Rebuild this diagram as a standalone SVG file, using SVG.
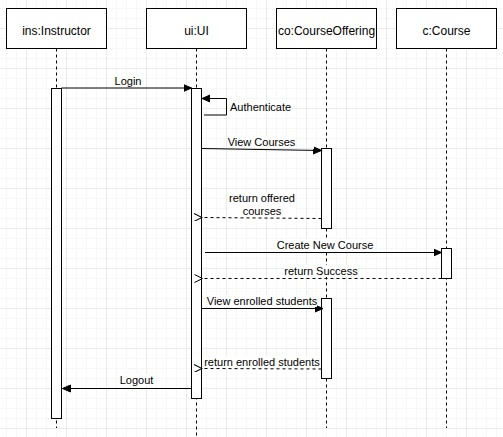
<svg xmlns="http://www.w3.org/2000/svg" width="503" height="437" viewBox="0 0 503 437">
<style>
.box{fill:#fff;stroke:#000;stroke-width:1}
.life{stroke:#000;stroke-width:1;stroke-dasharray:3 3;fill:none}
.act{fill:#fff;stroke:#000;stroke-width:1}
.msg{stroke:#000;stroke-width:1;fill:none}
.ret{stroke:#000;stroke-width:1;fill:none;stroke-dasharray:3 3}
.t{font-family:"Liberation Sans",Arial,sans-serif;font-size:12px;fill:#000;text-anchor:middle}
.l{font-family:"Liberation Sans",Arial,sans-serif;font-size:11px;fill:#000;text-anchor:middle}
.lb{fill:#fff}
</style>
<defs>
<pattern id="minor" x="26" y="28" width="10" height="10" patternUnits="userSpaceOnUse">
<path d="M0.5 0V10M0 0.5H10" stroke="#f7f7f7" stroke-width="1"/>
</pattern>
<pattern id="major" x="26" y="28" width="40" height="40" patternUnits="userSpaceOnUse">
<path d="M0.5 0V40M0 0.5H40" stroke="#ebebeb" stroke-width="1"/>
</pattern>
<marker id="block" markerWidth="10" markerHeight="10" refX="8" refY="4" orient="auto" markerUnits="userSpaceOnUse">
<path d="M0 0.5L8 4L0 7.5Z" fill="#000" stroke="#000" stroke-width="1"/>
</marker>
<marker id="open" markerWidth="10" markerHeight="10" refX="1" refY="4" orient="auto" markerUnits="userSpaceOnUse">
<path d="M9 0L1 4L9 8" fill="none" stroke="#000" stroke-width="1"/>
</marker>
</defs>
<rect width="503" height="437" fill="#fff"/>
<rect width="503" height="437" fill="url(#minor)"/>
<rect width="503" height="437" fill="url(#major)"/>

<g id="lifelines">
<line class="life" x1="56.5" y1="48.5" x2="56.5" y2="428"/>
<line class="life" x1="196.5" y1="48.5" x2="196.5" y2="437"/>
<line class="life" x1="326.5" y1="48.5" x2="326.5" y2="428"/>
<line class="life" x1="446.5" y1="48.5" x2="446.5" y2="428"/>
</g>

<g id="instructor">
<rect class="box" x="6.5" y="8.5" width="100" height="40"/>
<text class="t" x="56.5" y="35">ins:Instructor</text>
<rect class="act" x="51.5" y="88.5" width="10" height="330"/>
</g>
<g id="ui">
<rect class="box" x="146.5" y="8.5" width="100" height="40"/>
<text class="t" x="196.5" y="35">ui:UI</text>
<rect class="act" x="191.5" y="88.5" width="10" height="310"/>
</g>
<g id="courseoffering">
<rect class="box" x="276.5" y="8.5" width="100" height="40"/>
<text class="t" x="326.5" y="35">co:CourseOffering</text>
<rect class="act" x="321.5" y="148.5" width="10" height="80"/>
<rect class="act" x="321.5" y="298.5" width="10" height="80"/>
</g>
<g id="course">
<rect class="box" x="396.5" y="8.5" width="100" height="40"/>
<text class="t" x="446.5" y="35">c:Course</text>
<rect class="act" x="441.5" y="248.5" width="10" height="30"/>
</g>

<g id="connectors">
<line class="msg" x1="61.5" y1="88" x2="191.5" y2="88" marker-end="url(#block)"/>
<rect class="lb" x="114" y="75" width="28" height="12"/>
<text class="l" x="128" y="85">Login</text>

<path class="msg" d="M204 115H226.5V98.5H202" marker-end="url(#block)"/>
<rect class="lb" x="229" y="101" width="63" height="12"/>
<text class="l" x="230" y="111" style="text-anchor:start">Authenticate</text>

<line class="msg" x1="201.5" y1="148.5" x2="321.5" y2="150.5" marker-end="url(#block)"/>
<rect class="lb" x="228" y="136" width="68" height="12"/>
<text class="l" x="261.5" y="146">View Courses</text>

<line class="ret" x1="321.5" y1="218.5" x2="202" y2="217.5" marker-end="url(#open)"/>
<rect class="lb" x="229" y="192" width="67" height="25"/>
<text class="l" x="262" y="202">return offered</text>
<text class="l" x="262" y="215">courses</text>

<line class="msg" x1="205" y1="252.5" x2="441.5" y2="252.5" marker-end="url(#block)"/>
<rect class="lb" x="276" y="239" width="98" height="12"/>
<text class="l" x="325" y="249">Create New Course</text>

<line class="ret" x1="441.5" y1="278.5" x2="202.5" y2="278.5" marker-end="url(#open)"/>
<rect class="lb" x="284" y="265" width="74" height="12"/>
<text class="l" x="321" y="275">return Success</text>

<line class="msg" x1="201.5" y1="308.5" x2="323" y2="308.5" marker-end="url(#block)"/>
<rect class="lb" x="207" y="295" width="110" height="12"/>
<text class="l" x="262" y="305">View enrolled students</text>

<line class="ret" x1="321.5" y1="369" x2="202" y2="368.5" marker-end="url(#open)"/>
<rect class="lb" x="204" y="356" width="115" height="12"/>
<text class="l" x="262" y="366">return enrolled students</text>

<line class="msg" x1="191.5" y1="388.5" x2="62.5" y2="388.5" marker-end="url(#block)"/>
<rect class="lb" x="120" y="374" width="34" height="12"/>
<text class="l" x="136.5" y="384">Logout</text>
</g>
</svg>
